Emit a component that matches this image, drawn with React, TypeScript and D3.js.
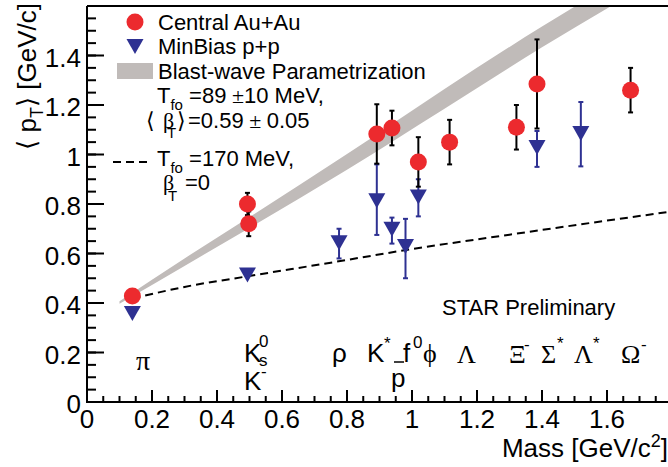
import React from 'react';
import * as d3 from 'd3';

// ---- Data ----
const auauMass = [0.1396, 0.4937, 0.4976, 0.8917, 0.9383, 1.0195, 1.1157, 1.3213, 1.3846, 1.6725];
const auauPt = [0.428, 0.80, 0.72, 1.083, 1.107, 0.97, 1.05, 1.11, 1.285, 1.26];
const auauErrLo = [0.02, 0.045, 0.05, 0.12, 0.07, 0.10, 0.09, 0.09, 0.18, 0.09];
const auauErrHi = [0.02, 0.045, 0.05, 0.12, 0.07, 0.10, 0.09, 0.09, 0.18, 0.09];

const ppMass = [0.1396, 0.4937, 0.7755, 0.8917, 0.9383, 0.980, 1.0195, 1.3846, 1.5195];
const ppPt = [0.36, 0.515, 0.645, 0.815, 0.70, 0.63, 0.83, 1.03, 1.087];
const ppErrLo = [0, 0, 0.065, 0.14, 0.06, 0.13, 0.08, 0.08, 0.135];
const ppErrHi = [0, 0, 0.055, 0.145, 0.045, 0.11, 0.07, 0.065, 0.125];

const bandMass = [0.10, 0.3, 0.5, 0.8, 1.1, 1.4, 1.7];
const bandLo = [0.397, 0.550, 0.703, 0.938, 1.185, 1.433, 1.667];
const bandHi = [0.407, 0.580, 0.747, 1.002, 1.265, 1.517, 1.753];

const thermMass = [0.14, 0.3, 0.494, 0.75, 1.0, 1.3, 1.6, 1.79];
const thermPt = [0.418, 0.465, 0.508, 0.563, 0.618, 0.676, 0.733, 0.768];

const yTickValues = [0, 0.2, 0.4, 0.6, 0.8, 1.0, 1.2, 1.4];
const xTickValues = [0, 0.2, 0.4, 0.6, 0.8, 1.0, 1.2, 1.4, 1.6];

const legendLabels = ['Central Au+Au', 'MinBias p+p', 'Blast-wave Parametrization'];

const RED = '#ec2a2e';
const BLUE = '#2e3192';
const GRAY = '#c0bbb9';
const SANS = '"Liberation Sans", Arial, Helvetica, sans-serif';
const SERIF = '"Liberation Serif", "DejaVu Serif", serif';
const DJ = '"DejaVu Sans", sans-serif';

export default function App() {
  const W = 668, H = 467;
  const x = d3.scaleLinear().domain([0, 1.79]).range([87, 87 + 1.79 * 325]);
  const y = d3.scaleLinear().domain([0, 1.6]).range([402, 6]);
  const [x0, x1] = x.range();
  const [y0, y1] = y.range();

  const band = bandMass.map((m, i) => ({ m, lo: bandLo[i], hi: bandHi[i] }));
  const areaGen = d3.area<any>().x(d => x(d.m)).y0(d => y(d.lo)).y1(d => y(d.hi)).curve(d3.curveMonotoneX);
  const therm = thermMass.map((m, i) => ({ m, v: thermPt[i] }));
  const lineGen = d3.line<any>().x(d => x(d.m)).y(d => y(d.v)).curve(d3.curveMonotoneX);

  const yMinor = y.ticks(32);
  const xMinor = x.ticks(36);

  const tri = (cx: number, cy: number) => `M${cx - 8.5},${cy - 7}L${cx + 8.5},${cy - 7}L${cx},${cy + 8}Z`;

  const errBar = (m: number, v: number, lo: number, hi: number, color: string, key: string) => {
    if (lo === 0 && hi === 0) return null;
    const cx = x(m);
    return (
      <g key={key} stroke={color} strokeWidth={2}>
        <line x1={cx} x2={cx} y1={y(v - lo)} y2={y(v + hi)} />
        <line x1={cx - 2.5} x2={cx + 2.5} y1={y(v - lo)} y2={y(v - lo)} />
        <line x1={cx - 2.5} x2={cx + 2.5} y1={y(v + hi)} y2={y(v + hi)} />
      </g>
    );
  };

  return (
    <svg width={W} height={H} style={{ position: 'absolute', left: 0, top: 0, background: '#fff' }}>
      <defs>
        <clipPath id="plot">
          <rect x={x0} y={y1} width={x1 - x0} height={y0 - y1} />
        </clipPath>
      </defs>
      <rect width={W} height={H} fill="#fff" />

      {/* band and curve */}
      <g clipPath="url(#plot)">
        <path d={areaGen(band) || ''} fill={GRAY} />
        <path d={lineGen(therm) || ''} fill="none" stroke="#000" strokeWidth={2} strokeDasharray="8,5" />
      </g>

      {/* p+p */}
      {ppMass.map((m, i) => errBar(m, ppPt[i], ppErrLo[i], ppErrHi[i], BLUE, 'pe' + i))}
      {ppMass.map((m, i) => <path key={'pp' + i} d={tri(x(m), y(ppPt[i]))} fill={BLUE} />)}

      {/* Au+Au */}
      {auauMass.map((m, i) => errBar(m, auauPt[i], auauErrLo[i], auauErrHi[i], '#000', 'ae' + i))}
      {auauMass.map((m, i) => <circle key={'aa' + i} cx={x(m)} cy={y(auauPt[i])} r={8.5} fill={RED} />)}

      {/* axes */}
      <g stroke="#000" strokeWidth={2}>
        <line x1={x0} x2={x0} y1={y0 + 1} y2={y1} />
        <line x1={x0} x2={x1} y1={y0} y2={y0} />
        <line x1={x0} x2={x1} y1={y1} y2={y1} />
        {yMinor.map((t, i) => <line key={'ym' + i} x1={x0} x2={x0 + 9} y1={y(t)} y2={y(t)} />)}
        {yTickValues.map((t, i) => <line key={'yM' + i} x1={x0} x2={x0 + 17} y1={y(t)} y2={y(t)} />)}
        {xMinor.map((t, i) => <line key={'xm' + i} x1={x(t)} x2={x(t)} y1={y0} y2={y0 - 6} />)}
        {xTickValues.map((t, i) => <line key={'xM' + i} x1={x(t)} x2={x(t)} y1={y0} y2={y0 - 12} />)}
      </g>
      <g fontFamily={SANS} fontSize={26} fill="#000">
        {yTickValues.map((t, i) => (
          <text key={'yl' + i} x={x0 - 6} y={y(t) + 2} dy="0.35em" textAnchor="end">{String(+t.toFixed(1))}</text>
        ))}
        {xTickValues.map((t, i) => (
          <text key={'xl' + i} x={x(t)} y={y0 + 7} dy="0.72em" textAnchor="middle">{String(+t.toFixed(1))}</text>
        ))}
      </g>

      {/* axis titles */}
      <text x={668} y={457} textAnchor="end" fontFamily={SANS} fontSize={26}>
        Mass [GeV/c<tspan dy={-10} fontSize={18}>2</tspan><tspan dy={10}>]</tspan>
      </text>
      <text transform="translate(36,3) rotate(-90)" textAnchor="end" fontFamily={SANS} fontSize={26}>
        <tspan fontFamily={DJ}>⟨</tspan> p<tspan dy={7} fontSize={18}>T</tspan><tspan dy={-7} fontFamily={DJ}>⟩</tspan> [GeV/c]
      </text>

      {/* legend */}
      <g fontFamily={SANS} fontSize={22}>
        <circle cx={135} cy={22} r={8.5} fill={RED} />
        <text x={158} y={30}>{legendLabels[0]}</text>
        <path d={tri(135, 46)} fill={BLUE} />
        <text x={158} y={54}>{legendLabels[1]}</text>
        <rect x={117} y={63} width={36} height={16} fill={GRAY} />
        <text x={158} y={79}>{legendLabels[2]}</text>

        <text x={157} y={103}>T<tspan dy={7} fontSize={15}>fo</tspan><tspan dy={-7}> =89</tspan><tspan fontFamily={SERIF}> ±</tspan>10 MeV,</text>
        <text x={146} y={128} fontFamily={DJ}>⟨</text>
        <text x={163} y={128} fontFamily={SERIF}>β</text>
        <text x={167} y={138} fontSize={15}>T</text>
        <text x={177} y={128} fontFamily={DJ}>⟩</text>
        <text x={188} y={128}>=0.59<tspan fontFamily={SERIF}> ± </tspan>0.05</text>

        <line x1={113} x2={147} y1={162} y2={162} stroke="#000" strokeWidth={2} strokeDasharray="8,5" />
        <text x={157} y={166}>T<tspan dy={7} fontSize={15}>fo</tspan><tspan dy={-7}> =170 MeV,</tspan></text>
        <text x={163} y={190} fontFamily={SERIF}>β</text>
        <text x={168} y={201} fontSize={15}>T</text>
        <text x={185} y={190}> =0</text>
      </g>

      <text x={442} y={315} fontFamily={SANS} fontSize={22}>STAR Preliminary</text>

      {/* particle labels */}
      <g fontSize={26} fill="#000">
        <text x={136} y={370} fontFamily={SERIF} fontSize={28}>π</text>
        <text x={244} y={362} fontFamily={SANS}>K</text>
        <text x={259} y={366} fontFamily={SANS} fontSize={17}>s</text>
        <text x={259} y={347} fontFamily={SANS} fontSize={17}>0</text>
        <text x={244} y={390} fontFamily={SANS}>K</text>
        <text x={261} y={377} fontFamily={SANS} fontSize={17}>-</text>
        <text x={332} y={362} fontFamily={SANS}>ρ</text>
        <text x={367} y={362} fontFamily={SANS}>K</text>
        <text x={384} y={349} fontFamily={SANS} fontSize={17}>*</text>
        <text x={391} y={387} fontFamily={SANS}>p</text>
        <line x1={394} x2={404} y1={362} y2={362} stroke="#000" strokeWidth={1.5} />
        <text x={403} y={362} fontFamily={SANS}>f</text>
        <text x={413} y={348} fontFamily={SANS} fontSize={17}>0</text>
        <text x={423} y={362} fontFamily={SERIF}>ϕ</text>
        <text x={457} y={363} fontFamily={SERIF}>Λ</text>
        <text x={509} y={363} fontFamily={SERIF}>Ξ</text>
        <text x={524} y={350} fontFamily={SANS} fontSize={17}>-</text>
        <text x={541} y={363} fontFamily={SERIF}>Σ</text>
        <text x={557} y={349} fontFamily={SANS} fontSize={17}>*</text>
        <text x={574} y={363} fontFamily={SERIF}>Λ</text>
        <text x={593} y={349} fontFamily={SANS} fontSize={17}>*</text>
        <text x={621} y={363} fontFamily={SERIF}>Ω</text>
        <text x={641} y={350} fontFamily={SANS} fontSize={17}>-</text>
      </g>
    </svg>
  );
}
